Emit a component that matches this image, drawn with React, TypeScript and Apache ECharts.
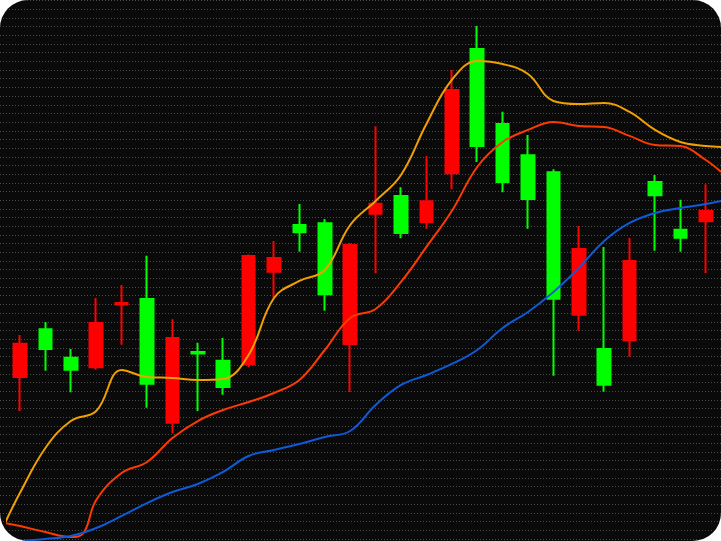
import React, { useEffect, useRef } from "react";
import * as echarts from "echarts";

// Candle sessions (no labels are shown on the chart)
const categories = [
  "1", "2", "3", "4", "5", "6", "7", "8", "9", "10", "11", "12", "13", "14",
  "15", "16", "17", "18", "19", "20", "21", "22", "23", "24", "25", "26", "27", "28",
];

// [open, close, low, high]
const candles: number[][] = [
  [22.48, 18.64, 14.72, 23.48],
  [21.87, 24.14, 19.37, 24.98],
  [19.48, 20.86, 16.88, 21.87],
  [24.86, 19.76, 19.48, 27.74],
  [27.17, 26.99, 22.36, 29.24],
  [17.87, 27.63, 15.10, 32.62],
  [23.13, 13.38, 12.15, 25.29],
  [21.35, 21.52, 14.72, 22.59],
  [17.49, 20.52, 16.60, 23.13],
  [32.58, 20.14, 19.79, 32.75],
  [32.35, 30.77, 27.78, 34.31],
  [35.31, 36.15, 33.08, 38.57],
  [28.17, 36.35, 26.28, 36.84],
  [33.85, 22.44, 16.91, 34.08],
  [38.61, 37.45, 30.59, 47.52],
  [35.23, 39.49, 34.62, 40.50],
  [38.88, 36.50, 35.73, 44.10],
  [51.71, 42.11, 40.26, 54.01],
  [45.25, 56.43, 43.41, 59.08],
  [41.11, 47.79, 39.92, 49.20],
  [39.15, 44.18, 35.73, 46.52],
  [27.66, 42.22, 18.79, 42.57],
  [33.39, 25.82, 23.97, 36.04],
  [17.75, 21.87, 16.95, 33.62],
  [32.00, 22.87, 20.98, 34.65],
  [39.57, 41.11, 33.19, 41.91],
  [34.69, 35.61, 33.08, 39.07],
  [37.76, 36.58, 30.62, 40.84],
];

// Indicator lines: [candle index position, value]
const orangeLine: number[][] = [
  [-0.59, 1.82], [0, 5.3], [1, 10.46], [2, 13.57], [3, 14.72], [4, 19.45],
  [5, 18.64], [6, 18.53], [7, 18.3], [8, 18.41], [9, 21.18], [10, 27.74],
  [11, 29.7], [12, 30.97], [13, 36.15], [14, 38.92], [15, 41.91], [16, 47.79],
  [17, 52.86], [18, 55.05], [19, 54.7], [20, 53.55], [21, 50.44], [22, 50.09],
  [23, 50.21], [24, 49.17], [25, 47.1], [26, 45.71], [27, 45.25], [27.6, 45.14],
];

const redLine: number[][] = [
  [-0.59, 1.82], [0, 1.47], [1, 0.78], [2, 0.21], [2.5, 0.67], [3, 4.47],
  [4, 7.58], [5, 8.85], [6, 11.61], [7, 13.57], [8, 14.84], [9, 15.76],
  [10, 16.8], [11, 18.29], [12, 21.75], [13, 25.44], [14, 26.47], [15, 29.59],
  [16, 33.62], [17, 37.76], [18, 42.83], [19, 45.71], [20, 47.1], [21, 48.02],
  [22, 47.56], [23, 47.44], [24, 46.41], [25, 45.37], [26, 45.25], [27, 43.64],
  [27.6, 42.26],
];

const blueLine: number[][] = [
  [-0.59, -0.37], [0, -0.25], [1, -0.02], [2, 0.32], [3, 1.24], [4, 2.63],
  [5, 4.12], [6, 5.39], [7, 6.31], [8, 7.7], [9, 9.54], [10, 10.23],
  [11, 10.92], [12, 11.73], [13, 12.42], [14, 15.41], [15, 17.72], [16, 18.87],
  [17, 20.14], [18, 21.75], [19, 24.29], [20, 26.13], [21, 28.43], [22, 31.2],
  [23, 34.31], [24, 36.38], [25, 37.53], [26, 38.11], [27, 38.57], [27.6, 38.92],
];

const UP = "#00ff00";
const DOWN = "#ff0000";

export default function App() {
  const ref = useRef<HTMLDivElement>(null);

  useEffect(() => {
    if (!ref.current) return;
    const chart = echarts.init(ref.current, null, { renderer: "svg" });
    const lineCommon = {
      type: "line" as const,
      xAxisIndex: 1,
      yAxisIndex: 0,
      smooth: 0.4,
      showSymbol: false,
      symbol: "none",
      clip: false,
      z: 5,
    };
    const hiddenAxis = {
      axisLine: { show: false },
      axisTick: { show: false },
      axisLabel: { show: false },
    };
    chart.setOption({
      animation: false,
      backgroundColor: "transparent",
      grid: [
        { left: 7.3, right: 2.5, top: 0.6, bottom: 2.2 },
        { left: 0, right: 0, top: 0.6, bottom: 2.2 },
      ],
      xAxis: [
        {
          type: "category",
          gridIndex: 0,
          data: categories,
          boundaryGap: true,
          ...hiddenAxis,
          splitLine: { show: false },
        },
        {
          type: "value",
          gridIndex: 0,
          min: -0.5,
          max: 27.5,
          show: false,
          splitLine: { show: false },
        },
        {
          type: "value",
          gridIndex: 1,
          min: 0,
          max: 1,
          show: false,
          splitLine: { show: false },
        },
      ],
      yAxis: [
        {
          type: "value",
          gridIndex: 0,
          min: 0,
          max: 62,
          interval: 1,
          ...hiddenAxis,
          splitLine: { show: false },
        },
        {
          type: "value",
          gridIndex: 1,
          min: 0,
          max: 62,
          interval: 1,
          ...hiddenAxis,
          splitLine: {
            show: true,
            lineStyle: { color: "#4a4a4a", width: 1, type: [1, 2] },
          },
        },
      ],
      series: [
        {
          type: "candlestick",
          xAxisIndex: 0,
          yAxisIndex: 0,
          data: candles,
          barWidth: 13,
          itemStyle: {
            color: UP,
            color0: DOWN,
            borderColor: UP,
            borderColor0: DOWN,
            borderWidth: 2,
          },
          z: 2,
        },
        { ...lineCommon, data: orangeLine, lineStyle: { color: "#f0a000", width: 2 } },
        { ...lineCommon, data: redLine, lineStyle: { color: "#ff3a00", width: 2 } },
        { ...lineCommon, data: blueLine, lineStyle: { color: "#0e5ad8", width: 2 } },
      ],
    });
    return () => chart.dispose();
  }, []);

  return (
    <div
      style={{
        position: "fixed",
        left: 0,
        top: 0,
        width: 721,
        height: 541,
        borderRadius: 28,
        overflow: "hidden",
        background: "#0a0a0a",
        boxSizing: "border-box",
      }}
    >
      <div ref={ref} style={{ width: 721, height: 541 }} />
    </div>
  );
}
